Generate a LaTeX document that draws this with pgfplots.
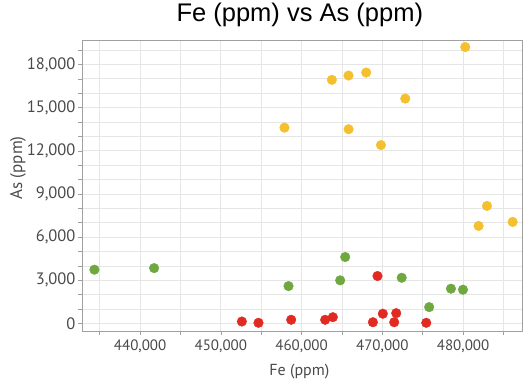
\documentclass[border=0pt]{standalone}
\usepackage{fontspec}
\setmainfont{Liberation Sans}
\newfontfamily\tickfont{PT Sans}
\usepackage{pgfplots}
\pgfplotsset{compat=1.18}
\definecolor{dotY}{HTML}{F4C02E}
\definecolor{dotG}{HTML}{6EA83E}
\definecolor{dotR}{HTML}{E12B22}
\definecolor{gridc}{HTML}{E6E6E6}
\definecolor{axc}{HTML}{A0A0A0}
\definecolor{txt}{HTML}{4A4A4A}
\begin{document}
\begin{tikzpicture}
\begin{axis}[
  scale only axis,
  width=440pt, height=291pt,
  xmin=432800, xmax=487300,
  ymin=-520, ymax=19700,
  xtick={440000,450000,460000,470000,480000},
  xticklabels={{440,000},{450,000},{460,000},{470,000},{480,000}},
  minor xtick={435000,445000,455000,465000,475000,485000},
  ytick={0,3000,6000,9000,12000,15000,18000},
  yticklabels={{0},{3,000},{6,000},{9,000},{12,000},{15,000},{18,000}},
  minor ytick={1000,2000,4000,5000,7000,8000,10000,11000,13000,14000,16000,17000,19000},
  grid=both,
  major grid style={gridc, line width=0.8pt},
  minor grid style={gridc, line width=0.8pt},
  axis line style={axc, line width=0.8pt},
  tick style={axc, line width=0.6pt},
  major tick length=4pt, minor tick length=4pt,
  tick align=outside,
  xtick pos=bottom, ytick pos=left,
  scaled ticks=false,
  xticklabel style={font=\tickfont\fontsize{15}{16}\selectfont, text=txt, yshift=-1pt},
  yticklabel style={font=\tickfont\fontsize{16.5}{18}\selectfont, text=txt, xshift=1pt},
  xlabel={Fe (ppm)}, ylabel={As (ppm)},
  xlabel style={font=\tickfont\fontsize{16}{17}\selectfont, text=txt, at={(rel axis cs:0.494,0)}, anchor=base, yshift=-44pt},
  ylabel style={font=\tickfont\fontsize{17}{18}\selectfont, text=txt, at={(rel axis cs:0,0.56)}, anchor=center, rotate=0, yshift=64pt},
  title={Fe (ppm) vs As (ppm)},
  title style={font=\fontsize{25.5}{27}\selectfont, at={(rel axis cs:0.495,1)}, anchor=base, yshift=12pt},
]
\addplot[only marks, mark=*, mark size=4.8pt, draw=dotY, fill=dotY] table {
x y
480270 19210
463750 16930
465810 17230
468000 17440
472840 15630
457880 13610
465820 13500
469830 12400
482960 8170
481920 6780
486140 7060
};
\addplot[only marks, mark=*, mark size=4.8pt, draw=dotG, fill=dotG] table {
x y
434340 3740
441730 3850
458380 2600
464780 3000
465400 4620
472400 3180
475800 1140
478500 2420
479990 2350
};
\addplot[only marks, mark=*, mark size=4.8pt, draw=dotR, fill=dotR] table {
x y
452600 140
454660 50
458710 260
462920 260
463870 440
469400 3300
468830 90
470060 680
471720 720
471470 90
475440 50
};
\end{axis}
\useasboundingbox (current axis.south west) ++(-82pt,-52pt) rectangle ([shift={(3pt,40pt)}]current axis.north east);
\end{tikzpicture}
\end{document}
